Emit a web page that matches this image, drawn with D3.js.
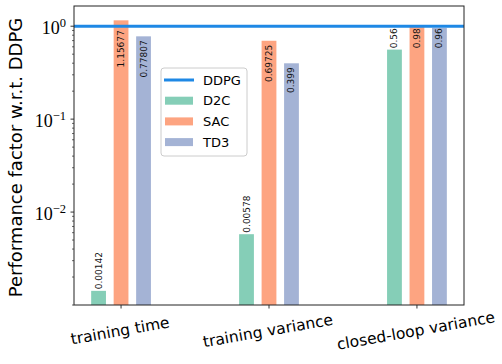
<!DOCTYPE html>
<html>
<head>
<meta charset="utf-8">
<script src="https://cdn.jsdelivr.net/npm/d3@7"></script>
<style>
  body { margin: 0; background: #fff; }
  svg { display: block; }
</style>
</head>
<body>
<svg id="chart" width="502" height="364"></svg>
<script>
// data
const categories = ["training time", "training variance", "closed-loop variance"];
const seriesNames = ["D2C", "SAC", "TD3"];
const d2cValues = [0.00142, 0.00578, 0.56];
const sacValues = [1.15677, 0.69725, 0.98];
const td3Values = [0.77807, 0.399, 0.96];
const d2cLabels = ["0.00142", "0.00578", "0.56"];
const sacLabels = ["1.15677", "0.69725", "0.98"];
const td3Labels = ["0.77807", "0.399", "0.96"];
const ddpgValue = 1;
const yTicks = [1e-2, 1e-1, 1];
const yTickExp = ["\u22122", "\u22121", "0"];

const colors = ["#85ceb7", "#fda481", "#a4b3d5"];
const ddpgColor = "#1e88e5";

const svg = d3.select("#chart");
const plot = { left: 74, right: 464, top: 6, bottom: 305 };

const x = d3.scaleLinear().domain([-0.318, 2.318]).range([plot.left, plot.right]);
const y = d3.scaleLog().domain([1e-3, 1.65]).range([plot.bottom, plot.top]);

const barW = 0.1, offsets = [-0.152, 0, 0.152];
const series = [
  { name: "D2C", values: d2cValues, labels: d2cLabels },
  { name: "SAC", values: sacValues, labels: sacLabels },
  { name: "TD3", values: td3Values, labels: td3Labels }
];

svg.append("clipPath").attr("id", "clip").append("rect")
  .attr("x", plot.left).attr("y", plot.top)
  .attr("width", plot.right - plot.left).attr("height", plot.bottom - plot.top);

const g = svg.append("g").attr("clip-path", "url(#clip)");

// bars
series.forEach((s, si) => {
  g.selectAll(".bar" + si)
    .data(s.values).enter().append("rect")
    .attr("x", (d, i) => x(i + offsets[si] - barW / 2))
    .attr("width", x(barW) - x(0))
    .attr("y", d => y(d))
    .attr("height", d => plot.bottom - y(d))
    .attr("fill", colors[si]);
});

// DDPG reference line
g.append("line")
  .attr("x1", plot.left).attr("x2", plot.right)
  .attr("y1", y(ddpgValue)).attr("y2", y(ddpgValue))
  .attr("stroke", ddpgColor).attr("stroke-width", 3);

// value labels: small bars get the label on top, tall bars inside,
// last group hangs under the DDPG line
series.forEach((s, si) => {
  s.values.forEach((v, i) => {
    const cx = x(i + offsets[si]);
    let ty, anchor;
    if (i === categories.length - 1) {
      ty = y(ddpgValue) + 2; anchor = "end";
    } else if (v > 0.1) {
      ty = y(Math.min(v, ddpgValue)) + 4; anchor = "end";
    } else {
      ty = y(v) - 1.5; anchor = "start";
    }
    svg.append("text")
      .attr("transform", `translate(${cx},${ty}) rotate(-90)`)
      .attr("text-anchor", anchor)
      .attr("dominant-baseline", "central")
      .style("font-family", "DejaVu Sans, sans-serif")
      .style("font-size", "9px")
      .attr("fill", "#111")
      .text(s.labels[i]);
  });
});

// y axis with minor ticks
const minor = [];
for (let e = -3; e <= 0; e++) for (let m = 1; m <= 9; m++) {
  const v = m * Math.pow(10, e);
  if (v >= 1e-3 && v <= 1.65) minor.push(v);
}
svg.append("g").selectAll("line").data(minor).enter().append("line")
  .attr("x1", plot.left).attr("x2", d => plot.left - (yTicks.includes(d) ? 3.5 : 2))
  .attr("y1", d => y(d)).attr("y2", d => y(d))
  .attr("stroke", "#000").attr("stroke-width", d => yTicks.includes(d) ? 0.8 : 0.6);

const yl = svg.append("g").selectAll("text").data(yTicks).enter().append("text")
  .attr("x", plot.left - 8)
  .attr("y", d => y(d) + 7.5)
  .attr("text-anchor", "end")
  .style("font-family", "Liberation Serif, serif")
  .style("font-size", "18px");
yl.append("tspan").text("10");
yl.append("tspan").attr("dy", -7).style("font-size", "12.5px").text((d, i) => yTickExp[i]);

// x axis ticks and rotated labels
svg.append("g").selectAll("line").data(categories).enter().append("line")
  .attr("x1", (d, i) => x(i)).attr("x2", (d, i) => x(i))
  .attr("y1", plot.bottom).attr("y2", plot.bottom + 3.5)
  .attr("stroke", "#000").attr("stroke-width", 0.8);

svg.append("g").selectAll("text").data(categories).enter().append("text")
  .attr("transform", (d, i) => `translate(${x(i) - 1},${plot.bottom + 26}) rotate(-10)`)
  .attr("text-anchor", "middle")
  .attr("dominant-baseline", "central")
  .style("font-family", "DejaVu Sans, sans-serif")
  .style("font-size", "15.5px")
  .text(d => d);

// frame
svg.append("rect")
  .attr("x", plot.left).attr("y", plot.top)
  .attr("width", plot.right - plot.left).attr("height", plot.bottom - plot.top)
  .attr("fill", "none").attr("stroke", "#222").attr("stroke-width", 1);

// y label
svg.append("text")
  .attr("transform", `translate(15,${(plot.top + plot.bottom) / 2 + 2}) rotate(-90)`)
  .attr("text-anchor", "middle")
  .attr("dominant-baseline", "central")
  .style("font-family", "DejaVu Sans, sans-serif")
  .style("font-size", "18px")
  .text("Performance factor w.r.t. DDPG");

// legend
const lg = svg.append("g").attr("transform", "translate(161,68)");
lg.append("rect").attr("width", 86).attr("height", 88).attr("rx", 3)
  .attr("fill", "#fff").attr("fill-opacity", 0.8)
  .attr("stroke", "#ccc").attr("stroke-width", 1);
const entries = ["DDPG"].concat(seriesNames);
entries.forEach((name, i) => {
  const cy = 12 + i * 20.7;
  if (i === 0) {
    lg.append("line").attr("x1", 3).attr("x2", 33).attr("y1", cy).attr("y2", cy)
      .attr("stroke", ddpgColor).attr("stroke-width", 3);
  } else {
    lg.append("rect").attr("x", 4).attr("y", cy - 4).attr("width", 28).attr("height", 8)
      .attr("fill", colors[i - 1]);
  }
  lg.append("text").attr("x", 42).attr("y", cy)
    .attr("dominant-baseline", "central")
    .style("font-family", "DejaVu Sans, sans-serif")
    .style("font-size", "13px")
    .text(name);
});
</script>
</body>
</html>
